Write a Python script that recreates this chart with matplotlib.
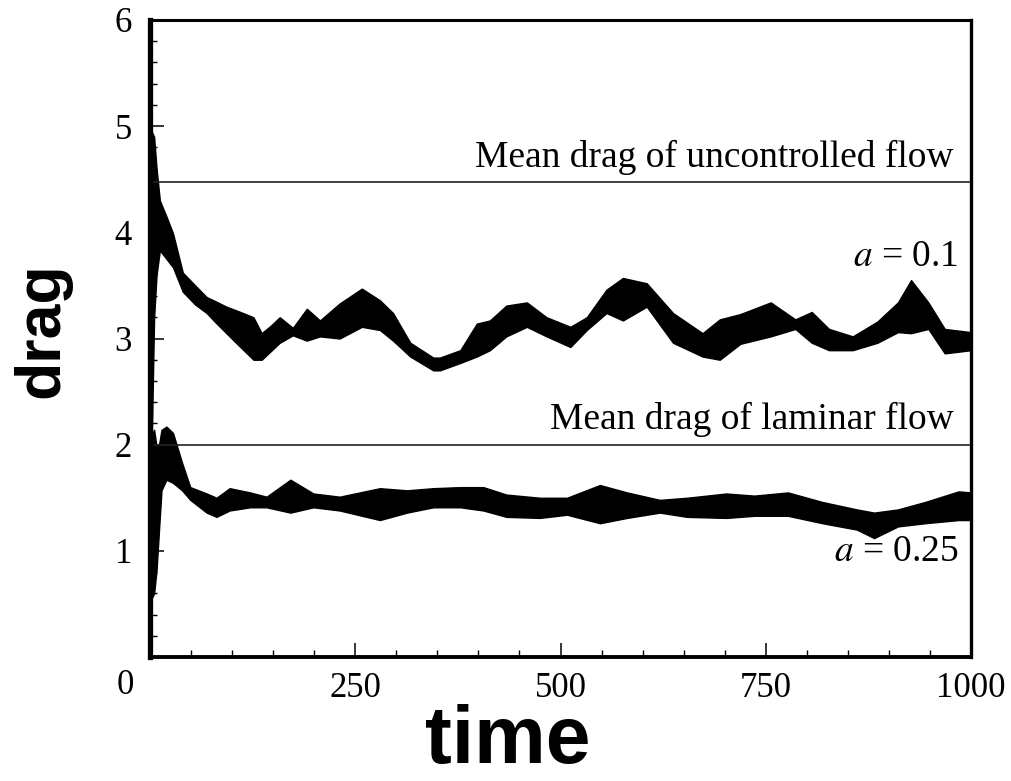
import matplotlib
matplotlib.use("Agg")
import matplotlib.pyplot as plt
from matplotlib.ticker import MultipleLocator, FixedLocator

# ---- data (envelopes of the oscillating drag signals) ----
t_a01 = [0, 2, 5, 8, 12, 20, 28, 40, 55, 69, 80, 93, 110, 126, 136, 147, 158, 174,
         191, 207, 231, 258, 280, 296, 317, 345, 353, 378, 398, 414, 434, 459, 483,
         512, 532, 556, 576, 605, 637, 673, 694, 719, 756, 786, 806, 827, 856, 886,
         911, 927, 948, 968, 1000]
hi_a01 = [3.0, 4.95, 4.9, 4.6, 4.30, 4.15, 3.99, 3.62, 3.50, 3.39, 3.35, 3.30, 3.25,
          3.20, 3.05, 3.12, 3.20, 3.10, 3.28, 3.17, 3.33, 3.47, 3.36, 3.24, 2.96, 2.82,
          2.82, 2.89, 3.14, 3.17, 3.31, 3.34, 3.20, 3.11, 3.20, 3.46, 3.57, 3.52, 3.24,
          3.05, 3.18, 3.23, 3.34, 3.18, 3.25, 3.09, 3.02, 3.16, 3.34, 3.55, 3.34, 3.09,
          3.06]
lo_a01 = [0.5, 2.0, 3.2, 3.6, 3.83, 3.75, 3.67, 3.44, 3.32, 3.24, 3.15, 3.05, 2.92,
          2.80, 2.80, 2.88, 2.96, 3.03, 2.98, 3.02, 3.00, 3.11, 3.08, 2.98, 2.83, 2.70,
          2.70, 2.77, 2.83, 2.89, 3.02, 3.11, 3.02, 2.92, 3.08, 3.24, 3.17, 3.30, 2.96,
          2.83, 2.80, 2.95, 3.02, 3.09, 2.96, 2.89, 2.89, 2.96, 3.06, 3.05, 3.09, 2.86,
          2.89]

t_a025 = [0, 2, 5, 8, 11, 14, 20, 28, 39, 49, 69, 81, 97, 122, 142, 171, 199, 231,
          280, 313, 345, 378, 406, 434, 475, 508, 548, 581, 621, 654, 702, 736, 777,
          819, 861, 882, 911, 944, 985, 1000]
hi_a025 = [1.2, 2.1, 2.14, 1.98, 2.0, 2.14, 2.17, 2.11, 1.83, 1.60, 1.54, 1.50, 1.59,
           1.55, 1.51, 1.67, 1.54, 1.51, 1.59, 1.57, 1.59, 1.60, 1.60, 1.53, 1.50, 1.50,
           1.62, 1.55, 1.48, 1.50, 1.54, 1.52, 1.55, 1.46, 1.39, 1.36, 1.39, 1.46, 1.56,
           1.55]
lo_a025 = [0.4, 0.55, 0.6, 0.82, 1.2, 1.57, 1.67, 1.64, 1.57, 1.48, 1.36, 1.32, 1.38,
           1.41, 1.41, 1.36, 1.41, 1.38, 1.29, 1.36, 1.41, 1.41, 1.38, 1.32, 1.31, 1.34,
           1.26, 1.31, 1.36, 1.32, 1.31, 1.33, 1.33, 1.26, 1.20, 1.12, 1.23, 1.26, 1.29,
           1.29]

mean_uncontrolled = 4.47
mean_laminar = 2.0

x_major = [250, 500, 750, 1000]
y_major = [1, 2, 3, 4, 5, 6]

# ---- figure ----
fig = plt.figure(figsize=(10.11, 7.81), dpi=100)
ax = fig.add_axes([150 / 1011, 1 - 657 / 781, (971 - 150) / 1011, (657 - 20) / 781])

serif = ["Liberation Serif", "DejaVu Serif"]
sans = ["Liberation Sans", "DejaVu Sans"]

ax.fill_between(t_a01, lo_a01, hi_a01, color="black", linewidth=1.0, edgecolor="black")
ax.fill_between(t_a025, lo_a025, hi_a025, color="black", linewidth=1.0, edgecolor="black")

ax.axhline(mean_uncontrolled, color="#222222", linewidth=1.2)
ax.axhline(mean_laminar, color="#222222", linewidth=1.2)

ax.set_xlim(0, 1000)
ax.set_ylim(0, 6)

ax.xaxis.set_major_locator(FixedLocator(x_major))
ax.xaxis.set_minor_locator(MultipleLocator(50))
ax.yaxis.set_major_locator(FixedLocator(y_major))
ax.yaxis.set_minor_locator(MultipleLocator(0.2))

ax.tick_params(which="both", direction="in", top=False, right=False, color="black")
ax.tick_params(which="major", length=10, width=1.1)
ax.tick_params(which="minor", length=5, width=1.0)
ax.tick_params(axis="x", which="major", pad=11)
ax.tick_params(axis="y", which="major", pad=13)

ax.set_xticklabels([str(v) for v in x_major], fontfamily=serif, fontsize=25)
ax.set_yticklabels([str(v) for v in y_major], fontfamily=serif, fontsize=25)

for side, lw in {"top": 2.2, "right": 2.4, "bottom": 2.8, "left": 3.8}.items():
    ax.spines[side].set_linewidth(lw)
    ax.spines[side].set_color("black")

# origin label at the corner
fig.text(125 / 1011, 1 - 685 / 781, "0", fontfamily=serif, fontsize=25,
         ha="center", va="center")

# annotations
ax.text(979, mean_uncontrolled + 0.07, "Mean drag of uncontrolled flow",
        fontfamily=serif, fontsize=27, ha="right", va="bottom")
ax.text(979, mean_laminar + 0.07, "Mean drag of laminar flow",
        fontfamily=serif, fontsize=27, ha="right", va="bottom")
ax.text(985, 3.77, r"$a$ = 0.1", fontfamily=serif, fontsize=27, ha="right", va="center",
        math_fontfamily="stix")
ax.text(985, 0.99, r"$a$ = 0.25", fontfamily=serif, fontsize=27, ha="right", va="center",
        math_fontfamily="stix")

# axis labels
fig.text(42 / 1011, 1 - 330 / 781, "drag", fontfamily=sans, fontweight="bold",
         fontsize=45, rotation=90, ha="center", va="center")
fig.text(508 / 1011, 1 / 781, "time", fontfamily=sans, fontweight="bold",
         fontsize=58, ha="center", va="bottom")

fig.savefig("out.png", dpi=100)
